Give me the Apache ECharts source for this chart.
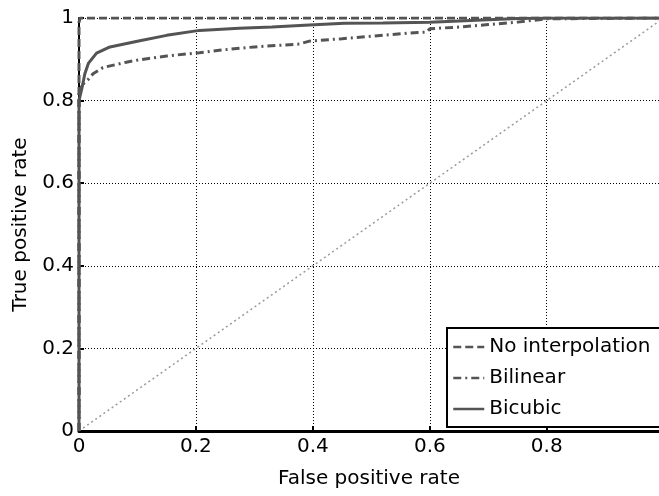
<!DOCTYPE html>
<html>
<head>
<meta charset="utf-8">
<script src="https://cdn.jsdelivr.net/npm/echarts@6/dist/echarts.min.js"></script>
<style>
  html, body { margin: 0; padding: 0; background: #fff; }
  #roc { width: 659px; height: 496px; }
</style>
</head>
<body>
<div id="roc"></div>
<script>
(function() {
  'use strict';
  var echarts = window.echarts;

  // 数据 (从图上读出来的)
  var legendNames = ['No interpolation', 'Bilinear', 'Bicubic'];

  var noInterpFpr = [0, 0, 0.002, 0.992];
  var noInterpTpr = [0, 0.99, 1, 1];

  var bilinearFpr = [0, 0, 0.003, 0.007, 0.015, 0.024, 0.041, 0.081, 0.104, 0.15, 0.206, 0.24, 0.3, 0.377, 0.394, 0.45, 0.5, 0.58, 0.595, 0.6, 0.65, 0.7, 0.75, 0.8, 0.992];
  var bilinearTpr = [0, 0.82, 0.83, 0.84, 0.85, 0.865, 0.88, 0.893, 0.899, 0.908, 0.916, 0.922, 0.93, 0.937, 0.944, 0.95, 0.956, 0.965, 0.966, 0.974, 0.978, 0.984, 0.99, 0.998, 1];

  var bicubicFpr = [0, 0, 0.005, 0.01, 0.016, 0.03, 0.053, 0.104, 0.15, 0.206, 0.274, 0.33, 0.394, 0.454, 0.52, 0.6, 0.65, 0.7, 0.75, 0.8, 0.992];
  var bicubicTpr = [0, 0.8, 0.83, 0.865, 0.89, 0.915, 0.93, 0.945, 0.958, 0.97, 0.975, 0.978, 0.983, 0.987, 0.988, 0.99, 0.993, 0.996, 0.999, 1, 1];

  var chanceFpr = [0, 1];
  var chanceTpr = [0, 1];

  function pairs(xs, ys) {
    var out = [];
    for (var i = 0; i < xs.length; i++) {
      out.push([xs[i], ys[i]]);
    }
    return out;
  }

  var lineColor = '#545454';
  var font = 'DejaVu Sans';

  var myChart = echarts.init(document.getElementById('roc'));

  var option = {
    animation: false,
    backgroundColor: '#fff',
    textStyle: { fontFamily: font },
    grid: {
      left: 79,
      right: -2,
      top: 18,
      bottom: 65
    },
    legend: {
      data: legendNames,
      orient: 'vertical',
      left: 447,
      top: 328,
      padding: [9, 40, 8, 5],
      itemGap: 11,
      itemWidth: 31,
      itemHeight: 14,
      backgroundColor: '#fff',
      borderColor: '#000',
      borderWidth: 2,
      itemStyle: { opacity: 0 },
      lineStyle: { width: 2.5 },
      textStyle: { fontFamily: font, fontSize: 20, color: '#000' }
    },
    xAxis: {
      type: 'value',
      min: 0,
      max: 0.992,
      interval: 0.2,
      name: 'False positive rate',
      nameLocation: 'middle',
      nameGap: 38,
      nameTextStyle: { fontFamily: font, fontSize: 20, color: '#000' },
      axisLine: { lineStyle: { color: '#000', width: 3 } },
      axisTick: { inside: true, length: 5, lineStyle: { color: '#000', width: 2 } },
      axisLabel: { showMaxLabel: false, margin: 6, fontFamily: font, fontSize: 20, color: '#000' },
      splitLine: { show: true, lineStyle: { color: '#000', width: 1, type: [1, 2] } }
    },
    yAxis: {
      type: 'value',
      min: 0,
      max: 1,
      interval: 0.2,
      name: 'True positive rate',
      nameLocation: 'middle',
      nameGap: 47,
      nameTextStyle: { fontFamily: font, fontSize: 20, color: '#000' },
      axisLine: { show: true, lineStyle: { color: '#000', width: 2 } },
      axisTick: { show: true, inside: true, length: 5, lineStyle: { color: '#000', width: 2 } },
      axisLabel: { margin: 5, fontFamily: font, fontSize: 20, color: '#000' },
      splitLine: { show: true, lineStyle: { color: '#000', width: 1, type: [1, 2] } }
    },
    series: [
      {
        name: 'chance',
        type: 'line',
        symbol: 'none',
        silent: true,
        data: pairs(chanceFpr, chanceTpr),
        lineStyle: { color: '#9a9a9a', width: 1.5, type: [2, 3] },
        z: 1
      },
      {
        name: 'Bilinear',
        type: 'line',
        symbol: 'none',
        color: lineColor,
        data: pairs(bilinearFpr, bilinearTpr),
        lineStyle: { color: lineColor, width: 3, type: [8, 4, 2, 4] }
      },
      {
        name: 'Bicubic',
        type: 'line',
        symbol: 'none',
        color: lineColor,
        data: pairs(bicubicFpr, bicubicTpr),
        lineStyle: { color: lineColor, width: 3 }
      },
      {
        name: 'No interpolation',
        type: 'line',
        symbol: 'none',
        color: lineColor,
        data: pairs(noInterpFpr, noInterpTpr),
        lineStyle: { color: lineColor, width: 3, type: [8, 4] }
      }
    ]
  };

  myChart.setOption(option);

}());
</script>
</body>
</html>
